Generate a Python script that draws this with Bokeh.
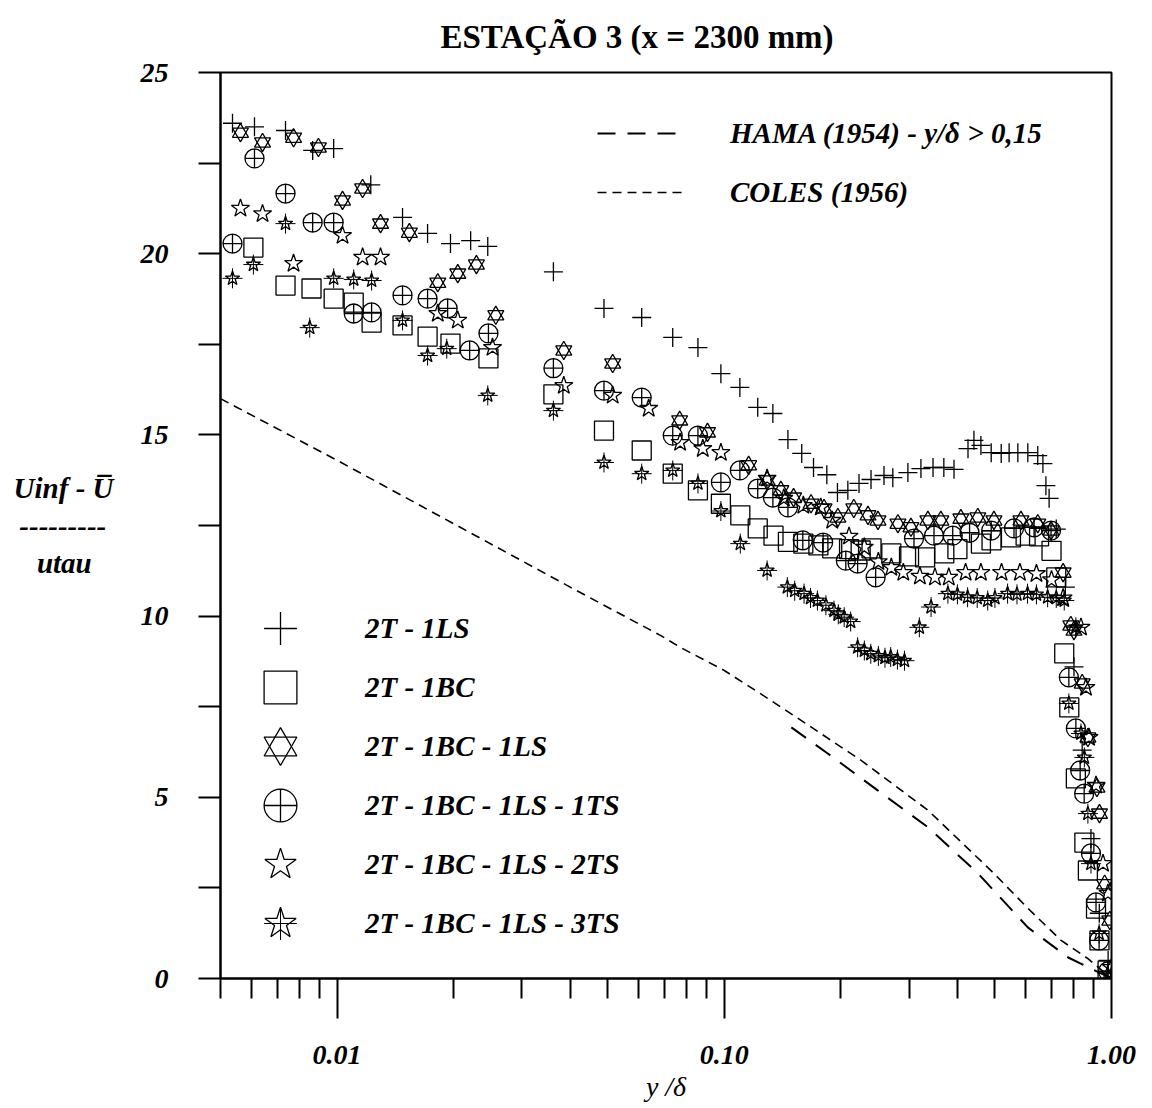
from bokeh.plotting import figure
from bokeh.models import FixedTicker, PrintfTickFormatter, Legend, LegendItem, Range1d
from bokeh.embed import file_html
from bokeh.resources import INLINE

FONT = "Liberation Serif"

title_text = "ESTAÇÃO 3 (x = 2300 mm)"
x_label = "y /δ"
y_label = "Uinf - U\u0305\n---------\u00a0\nutau\u2002\u00a0"

x_ticks = [0.01, 0.1, 1.0]
x_minor = [0.005, 0.006, 0.007, 0.008, 0.009, 0.02, 0.03, 0.04, 0.05, 0.06, 0.07, 0.08, 0.09,
           0.2, 0.3, 0.4, 0.5, 0.6, 0.7, 0.8, 0.9]
y_ticks = [0, 5, 10, 15, 20, 25]
y_minor = [2.5, 7.5, 12.5, 17.5, 22.5]

# 2T - 1LS  (+)
ls_x = [0.00537, 0.00612, 0.00736, 0.00865, 0.0098, 0.01222, 0.01476, 0.01713, 0.01963, 0.02213,
        0.0245, 0.0362, 0.0489, 0.0612, 0.0736, 0.0855, 0.098, 0.1097, 0.122, 0.1335,
        0.146, 0.1585, 0.170, 0.184, 0.196, 0.2085, 0.2228, 0.2393, 0.2585, 0.2724,
        0.298, 0.322, 0.346, 0.369, 0.392, 0.426, 0.4413, 0.460, 0.489, 0.519,
        0.544, 0.573, 0.608, 0.645, 0.665, 0.677, 0.690, 0.72, 0.76, 0.80,
        0.84, 0.885, 0.93, 0.98]
ls_y = [23.6, 23.5, 23.4, 22.85, 22.9, 21.9, 21.0, 20.56, 20.28, 20.36,
        20.2, 19.5, 18.49, 18.24, 17.69, 17.41, 16.69, 16.31, 15.76, 15.59,
        14.87, 14.49, 14.1, 13.9, 13.41, 13.47, 13.66, 13.77, 13.88, 13.82,
        13.96, 14.07, 14.1, 14.1, 14.05, 14.62, 14.85, 14.71, 14.51, 14.49,
        14.51, 14.51, 14.51, 14.43, 14.21, 13.6, 13.25, 12.4, 10.8, 8.6,
        6.3, 3.86, 1.8, 0.5]

# 2T - 1BC  (square)
bc_x = [0.00608, 0.00736, 0.00859, 0.0098, 0.01104, 0.01228, 0.01476, 0.01713, 0.01963, 0.0246,
        0.0362, 0.0489, 0.0612, 0.0736, 0.0855, 0.098, 0.110, 0.122, 0.134, 0.146,
        0.16, 0.175, 0.19, 0.21, 0.225, 0.24, 0.27, 0.30, 0.33, 0.37,
        0.40, 0.46, 0.49, 0.55, 0.60, 0.65, 0.70, 0.72, 0.755, 0.778,
        0.809, 0.851, 0.869, 0.912, 0.931, 0.977]
bc_y = [20.17, 19.12, 19.04, 18.76, 18.65, 18.10, 18.02, 17.71, 17.52, 17.11,
        16.12, 15.12, 14.57, 13.93, 13.47, 13.10, 12.78, 12.42, 12.22, 12.05,
        12.0, 11.95, 11.87, 11.85, 11.81, 11.87, 11.73, 11.65, 11.62, 11.73,
        11.85, 12.0, 12.09, 12.17, 12.22, 12.2, 11.8, 11.07, 8.97, 7.48,
        5.52, 3.75, 2.98, 1.93, 1.05, 0.22]

# 2T - 1BC - 1LS  (six-point star)
h_x = [0.00563, 0.00642, 0.00772, 0.00895, 0.01033, 0.01164, 0.01295, 0.01537, 0.0182, 0.0205,
       0.0229, 0.0257, 0.0385, 0.0515, 0.0767, 0.0905, 0.1156, 0.129, 0.140, 0.151,
       0.1675, 0.181, 0.1965, 0.216, 0.235, 0.2494, 0.2808, 0.3034, 0.3356, 0.3625,
       0.4083, 0.4516, 0.497, 0.5836, 0.645, 0.698, 0.75, 0.785, 0.80, 0.84,
       0.869, 0.917, 0.931, 0.96, 0.99, 1.0]
h_y = [23.34, 23.07, 23.20, 22.93, 21.47, 21.80, 20.83, 20.58, 19.20, 19.45,
       19.70, 18.30, 17.33, 16.97, 15.40, 15.07, 14.16, 13.74, 13.47, 13.27,
       13.10, 12.97, 12.72, 12.97, 12.78, 12.64, 12.55, 12.45, 12.64, 12.64,
       12.69, 12.72, 12.64, 12.64, 12.55, 12.36, 11.2, 9.74, 9.6, 8.14,
       6.65, 5.27, 4.55, 2.6, 1.6, 0.05]

# 2T - 1BC - 1LS - 1TS  (circle with cross)
c_x = [0.00537, 0.00612, 0.00736, 0.00865, 0.0098, 0.01104, 0.01228, 0.01476, 0.01713, 0.0193,
       0.022, 0.0246, 0.0362, 0.0489, 0.0612, 0.0736, 0.0855, 0.098, 0.1097, 0.122,
       0.1335, 0.146, 0.1595, 0.18, 0.206, 0.221, 0.246, 0.309, 0.348, 0.389,
       0.43, 0.489, 0.56, 0.631, 0.698, 0.776, 0.809, 0.83, 0.85, 0.885,
       0.912, 0.929, 0.98]
c_y = [20.28, 22.63, 21.66, 20.86, 20.86, 18.35, 18.38, 18.85, 18.76, 18.49,
       17.33, 17.80, 16.84, 16.22, 16.03, 14.98, 14.98, 13.69, 14.02, 13.52,
       13.27, 13.0, 12.09, 12.03, 11.53, 11.45, 11.07, 12.14, 12.22, 12.22,
       12.3, 12.36, 12.42, 12.45, 12.36, 8.31, 6.9, 5.74, 5.1, 3.45,
       2.1, 1.05, 0.2]

# 2T - 1BC - 1LS - 2TS  (five-point star)
s_x = [0.00563, 0.00642, 0.00772, 0.01033, 0.01164, 0.01295, 0.0182, 0.0205, 0.0252, 0.0385,
       0.0515, 0.0638, 0.0769, 0.088, 0.098, 0.129, 0.1425, 0.160, 0.1775, 0.19,
       0.21, 0.23, 0.25, 0.27, 0.29, 0.32, 0.35, 0.38, 0.42, 0.46,
       0.52, 0.58, 0.64, 0.70, 0.75, 0.834, 0.859, 0.875, 0.912, 0.951,
       0.979, 1.0]
s_y = [21.25, 21.10, 19.73, 20.50, 19.90, 19.90, 18.35, 18.16, 17.41, 16.36,
       16.09, 15.73, 14.79, 14.62, 14.51, 13.80, 13.25, 13.05, 13.00, 12.64,
       12.2, 11.9, 11.5, 11.34, 11.2, 11.1, 11.07, 11.07, 11.2, 11.2,
       11.2, 11.2, 11.17, 11.0, 10.5, 9.69, 8.03, 6.65, 5.33, 3.17,
       2.35, 0.3]

# 2T - 1BC - 1LS - 3TS  (spiked star)
t_x = [0.00537, 0.00608, 0.00736, 0.0085, 0.0098, 0.01104, 0.01228, 0.01476, 0.01713, 0.0192,
       0.0245, 0.0362, 0.0489, 0.0612, 0.0736, 0.0855, 0.098, 0.11, 0.129, 0.1455,
       0.152, 0.1607, 0.167, 0.174, 0.183, 0.192, 0.197, 0.204, 0.212, 0.221,
       0.23, 0.239, 0.25, 0.26, 0.269, 0.28, 0.292, 0.319, 0.342, 0.378,
       0.40, 0.425, 0.45, 0.479, 0.50, 0.539, 0.57, 0.607, 0.64, 0.684,
       0.72, 0.755, 0.776, 0.809, 0.834, 0.851, 0.869, 0.885, 0.929, 0.977]
t_y = [19.32, 19.70, 20.83, 17.96, 19.32, 19.29, 19.26, 18.16, 17.19, 17.38,
       16.09, 15.67, 14.24, 13.93, 14.02, 13.66, 12.9, 12.0, 11.26, 10.8,
       10.7, 10.62, 10.5, 10.43, 10.3, 10.15, 10.05, 9.97, 9.85, 9.14,
       9.05, 8.96, 8.9, 8.85, 8.87, 8.8, 8.77, 9.69, 10.25, 10.62,
       10.6, 10.52, 10.5, 10.43, 10.5, 10.62, 10.6, 10.62, 10.6, 10.52,
       10.5, 10.43, 7.59, 9.69, 6.76, 6.1, 4.55, 3.17, 1.24, 0.14]

# Reference curves
hama_x = [0.149, 0.185, 0.249, 0.336, 0.452, 0.608, 0.773, 1.0]
hama_y = [6.93, 6.21, 5.19, 4.17, 2.90, 1.41, 0.58, 0.0]
coles_x = [0.005, 0.01, 0.02, 0.04, 0.0686, 0.0772, 0.1, 0.124, 0.151, 0.2256, 0.336, 0.497, 0.6, 0.741, 0.869, 1.0]
coles_y = [16.0, 14.3, 12.55, 10.8, 9.46, 9.13, 8.5, 7.86, 7.26, 6.02, 4.64, 2.90, 2.0, 1.05, 0.55, 0.0]

labels = ["2T - 1LS", "2T - 1BC", "2T - 1BC - 1LS", "2T - 1BC - 1LS - 1TS",
          "2T - 1BC - 1LS - 2TS", "2T - 1BC - 1LS - 3TS"]
curve_labels = ["HAMA (1954) - y/δ > 0,15", "COLES (1956)"]

W, H = 1144, 1104
p = figure(width=W, height=H, x_axis_type="log",
           x_range=Range1d(0.005, 1.0), y_range=Range1d(0, 25),
           output_backend="svg", toolbar_location=None,
           min_border_left=220, min_border_right=33, min_border_top=72, min_border_bottom=126)
p.background_fill_color = "white"
p.border_fill_color = "white"
p.xgrid.visible = False
p.ygrid.visible = False
p.outline_line_color = "black"
p.outline_line_width = 2

p.title.text = title_text
p.title.text_font = FONT
p.title.text_font_style = "bold"
p.title.text_font_size = "33px"
p.title.text_color = "black"
p.title.align = "left"
p.title.offset = 220
p.title.vertical_align = "top"
p.title.standoff = 32

xa = p.xaxis[0]
xa.ticker = FixedTicker(ticks=x_ticks, minor_ticks=x_minor)
xa.formatter = PrintfTickFormatter(format="%.2f")
xa.major_tick_in = 0
xa.major_tick_out = 40
xa.minor_tick_in = 0
xa.minor_tick_out = 20
xa.axis_line_width = 2
xa.major_tick_line_width = 2
xa.minor_tick_line_width = 2
xa.major_label_text_font = FONT
xa.major_label_text_font_style = "bold italic"
xa.major_label_text_font_size = "28px"
xa.major_label_text_color = "black"
xa.major_label_standoff = 27
xa.axis_label = x_label
xa.axis_label_text_font = FONT
xa.axis_label_text_font_style = "italic"
xa.axis_label_text_font_size = "28px"
xa.axis_label_text_color = "black"
xa.axis_label_standoff = 4

ya = p.yaxis[0]
ya.ticker = FixedTicker(ticks=y_ticks, minor_ticks=y_minor)
ya.major_tick_in = 0
ya.major_tick_out = 22
ya.minor_tick_in = 0
ya.minor_tick_out = 22
ya.axis_line_width = 2
ya.major_tick_line_width = 2
ya.minor_tick_line_width = 2
ya.major_label_text_font = FONT
ya.major_label_text_font_style = "bold italic"
ya.major_label_text_font_size = "28px"
ya.major_label_text_color = "black"
ya.major_label_standoff = 30
ya.axis_label = y_label
ya.axis_label_orientation = "horizontal"
ya.axis_label_text_font = FONT
ya.axis_label_text_font_style = "bold italic"
ya.axis_label_text_font_size = "29px"
ya.axis_label_text_color = "black"
ya.axis_label_text_line_height = 1.17
ya.axis_label_standoff = 24

lw = 1.3
r_hama = p.line(hama_x, hama_y, line_color="black", line_width=2, line_dash="18 12")
r_coles = p.line(coles_x, coles_y, line_color="black", line_width=1.6, line_dash="9 6")

r_ls = p.scatter(ls_x, ls_y, marker="cross", size=19, line_color="black", line_width=lw)
r_bc = p.scatter(bc_x, bc_y, marker="square", size=19, line_color="black", fill_color=None, line_width=lw)
r_h1 = p.scatter(h_x, h_y, marker="triangle", size=16, line_color="black", fill_color=None, line_width=lw)
r_h2 = p.scatter(h_x, h_y, marker="inverted_triangle", size=16, line_color="black", fill_color=None, line_width=lw)
r_c = p.scatter(c_x, c_y, marker="circle_cross", size=19, line_color="black", fill_color=None, line_width=lw)
r_s = p.scatter(s_x, s_y, marker="star", size=19, line_color="black", fill_color=None, line_width=lw)
r_t1 = p.scatter(t_x, t_y, marker="star", size=15, line_color="black", fill_color=None, line_width=lw)
r_t2 = p.scatter(t_x, t_y, marker="cross", size=20, line_color="black", line_width=1.0)

# one single-item legend per row so that the markers can be large
marker_items = [(labels[0], [r_ls]), (labels[1], [r_bc]), (labels[2], [r_h1, r_h2]),
                (labels[3], [r_c]), (labels[4], [r_s]), (labels[5], [r_t1, r_t2])]
row_offsets = [309, 250, 191, 132, 73, 14]
for (lab, rends), yoff in zip(marker_items, row_offsets):
    lg = Legend(items=[LegendItem(label=lab, renderers=rends)], location=(19, yoff),
                glyph_width=82, glyph_height=82, label_standoff=44, padding=0, margin=0,
                border_line_color=None, background_fill_alpha=0,
                label_text_font=FONT, label_text_font_style="bold italic",
                label_text_font_size="29px", label_text_color="black")
    p.add_layout(lg)

leg2 = Legend(items=[
    LegendItem(label=curve_labels[0], renderers=[r_hama]),
    LegendItem(label=curve_labels[1], renderers=[r_coles]),
], location=(377, 766), orientation="vertical", glyph_width=88, glyph_height=40, label_height=40,
    spacing=19, label_standoff=45, padding=0, margin=0, border_line_color=None, background_fill_alpha=0,
    label_text_font=FONT, label_text_font_style="bold italic", label_text_font_size="29px",
    label_text_color="black")
p.add_layout(leg2)

open("out.html", "w").write(file_html(p, INLINE))
